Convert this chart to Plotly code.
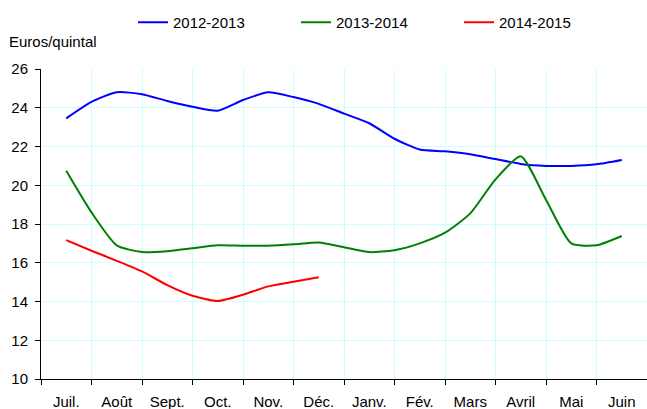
import plotly.graph_objects as go

months = ["Juil.", "Août", "Sept.", "Oct.", "Nov.", "Déc.", "Janv.", "Fév.", "Mars", "Avril", "Mai", "Juin"]

# semi-monthly positions (0 = Juil.)
x_full = [i * 0.5 for i in range(23)]
x_red = [i * 0.5 for i in range(11)]

s2012 = [23.45, 24.3, 24.8, 24.7, 24.35, 24.05, 23.85, 24.4, 24.8, 24.55, 24.2, 23.7,
         23.2, 22.4, 21.85, 21.75, 21.6, 21.35, 21.1, 21.0, 21.0, 21.08, 21.3]
s2013 = [20.75, 18.6, 16.9, 16.55, 16.6, 16.75, 16.9, 16.88, 16.88, 16.95, 17.05, 16.8,
         16.55, 16.65, 17.0, 17.55, 18.55, 20.3, 21.5, 19.25, 17.0, 16.9, 17.38]
s2014 = [17.17, 16.62, 16.1, 15.55, 14.85, 14.3, 14.03, 14.35, 14.78, 15.02, 15.25]

series = [
    ("2012-2013", x_full, s2012, "#0000ff"),
    ("2013-2014", x_full, s2013, "#008000"),
    ("2014-2015", x_red, s2014, "#ff0000"),
]

fig = go.Figure()
for name, xs, ys, col in series:
    fig.add_trace(go.Scatter(x=xs, y=ys, name=name, mode="lines",
                             line=dict(color=col, width=2, shape="spline", smoothing=0.6)))

font = dict(family="Liberation Sans, Arial, sans-serif", size=15, color="#000000")

fig.update_layout(
    width=647, height=409,
    margin=dict(l=41, r=0, t=69, b=30, autoexpand=False),
    paper_bgcolor="white", plot_bgcolor="white",
    font=font,
    showlegend=True,
    legend=dict(orientation="h", xref="container", yref="container",
                x=133 / 647, y=1 - 6 / 409, xanchor="left", yanchor="top",
                entrywidth=118, entrywidthmode="pixels", itemwidth=30,
                font=font, bgcolor="rgba(0,0,0,0)"),
    xaxis=dict(range=[-0.5, 11.5], tickvals=list(range(12)), ticktext=months,
               showgrid=False, ticks="", ticklabelstandoff=9, automargin=False,
               showline=True, linecolor="#000000", linewidth=1, zeroline=False,
               minor=dict(tick0=-0.5, dtick=1, showgrid=True, gridcolor="#ccffff", gridwidth=1,
                          ticks="outside", ticklen=5, tickcolor="#000000")),
    yaxis=dict(range=[10, 26], dtick=2, showgrid=True, gridcolor="#ccffff", gridwidth=1,
               showline=True, linecolor="#000000", linewidth=1, zeroline=False, automargin=False,
               ticks="outside", ticklen=5, tickcolor="#000000", ticklabelstandoff=4),
    annotations=[dict(text="Euros/quintal", xref="paper", yref="paper", x=-41 / 606, y=1 + 27 / 310,
                      xanchor="left", yanchor="middle", showarrow=False, font=font,
                      xshift=7)],
)

fig.write_html("out.html", config={"displayModeBar": False},
               post_script="document.body.style.margin='0';")
